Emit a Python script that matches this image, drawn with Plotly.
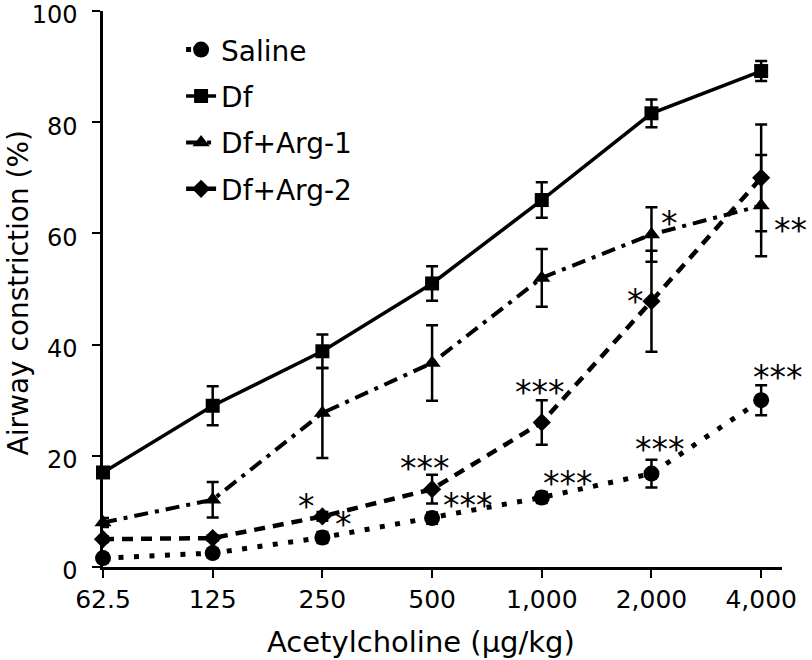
import plotly.graph_objects as go

doses = ["62.5", "125", "250", "500", "1,000", "2,000", "4,000"]

saline = [1.6, 2.5, 5.3, 8.8, 12.5, 16.8, 30.0]
saline_err = [0.8, 0.8, 1.0, 1.0, 1.0, 2.5, 2.7]

df = [17.0, 29.0, 38.8, 51.0, 66.0, 81.6, 89.2]
df_err = [0.8, 3.5, 3.0, 3.1, 3.2, 2.5, 1.8]

arg1 = [8.0, 12.1, 27.7, 36.7, 52.0, 59.8, 65.0]
arg1_err = [0.8, 3.2, 8.1, 6.8, 5.2, 4.9, 9.1]

arg2 = [5.0, 5.2, 9.1, 14.0, 26.0, 47.8, 70.0]
arg2_err = [0.5, 0.5, 0.8, 2.6, 4.0, 9.1, 9.6]

# significance labels: (text, x position in category units, y value)
sig_text = ["*", "*", "***", "***", "***", "***", "***", "***", "*", "*", "**"]
sig_x = [2.19, 1.857, 2.936, 3.331, 3.985, 4.243, 5.079, 6.158, 4.851, 5.164, 6.264]
sig_y = [8.9, 12.1, 18.9, 12.4, 32.6, 16.3, 22.4, 35.3, 49.0, 63.0, 61.7]

FONT = "DejaVu Sans"
xi = list(range(len(doses)))
XMAX = 6.19

series = [
    ("Saline", saline, saline_err, "circle", 16, dict(width=5, dash="5px,10.5px")),
    ("Df", df, df_err, "square", 14, dict(width=3.5, dash="solid")),
    ("Df+Arg-1", arg1, arg1_err, "triangle-up", 15, dict(width=4, dash="14px,7px,4px,7px")),
    ("Df+Arg-2", arg2, arg2_err, "diamond", 14, dict(width=4.5, dash="11px,8px")),
]

fig = go.Figure()
for i, (name, vals, err, sym, size, line) in enumerate(series):
    fig.add_trace(go.Scatter(
        x=xi, y=vals, name=name, mode="lines+markers",
        line=dict(color="black", **line),
        marker=dict(symbol=sym, size=size, color="black"),
        error_y=dict(type="data", array=err, visible=True, color="black", thickness=2.5, width=6),
        cliponaxis=False, legendgroup=name,
    ))

for t, x, y in zip(sig_text, sig_x, sig_y):
    fig.add_annotation(x=x / XMAX, y=y, xref="paper", yref="y", text=t, showarrow=False,
                       font=dict(family=FONT, size=33, color="black"),
                       xanchor="center", yanchor="middle", yshift=-7)

# axis titles
fig.add_annotation(x=-0.125, y=0.494, xref="paper", yref="paper", text="Airway constriction (%)",
                   textangle=-90, showarrow=False, font=dict(family=FONT, size=28, color="black"),
                   xanchor="center", yanchor="middle")
fig.add_annotation(x=0.468, y=-0.1357, xref="paper", yref="paper", text="Acetylcholine (μg/kg)",
                   showarrow=False, font=dict(family=FONT, size=29, color="black"),
                   xanchor="center", yanchor="middle")

fig.update_layout(
    width=812, height=660,
    margin=dict(l=103, r=30, t=11, b=92.5),
    paper_bgcolor="white", plot_bgcolor="white",
    font=dict(family=FONT, color="black"),
    showlegend=True,
    legend=dict(x=0.115, y=0.975, xanchor="left", yanchor="top",
                font=dict(family=FONT, size=28), bgcolor="rgba(0,0,0,0)",
                tracegroupgap=7, traceorder="grouped"),
    xaxis=dict(range=[0, XMAX], tickmode="array", tickvals=xi, ticktext=doses,
               showgrid=False, zeroline=False, showline=True, linecolor="black", linewidth=2.5,
               ticks="outside", ticklen=8, tickwidth=2, tickcolor="black",
               tickfont=dict(family=FONT, size=25), automargin=False,
               ticklabeloverflow="allow", ticklabelstandoff=0),
    yaxis=dict(range=[0, 100], tickmode="array", tickvals=[0, 20, 40, 60, 80, 100],
               showgrid=False, zeroline=False, showline=True, linecolor="black", linewidth=2.5,
               ticks="outside", ticklen=8, tickwidth=2, tickcolor="black",
               tickfont=dict(family=FONT, size=24), automargin=False,
               ticklabeloverflow="allow", ticklabelstandoff=10, ticklabelshift=4),
)

fig.write_html("out.html", post_script="document.body.style.margin='0';",
               config={"displayModeBar": False})
